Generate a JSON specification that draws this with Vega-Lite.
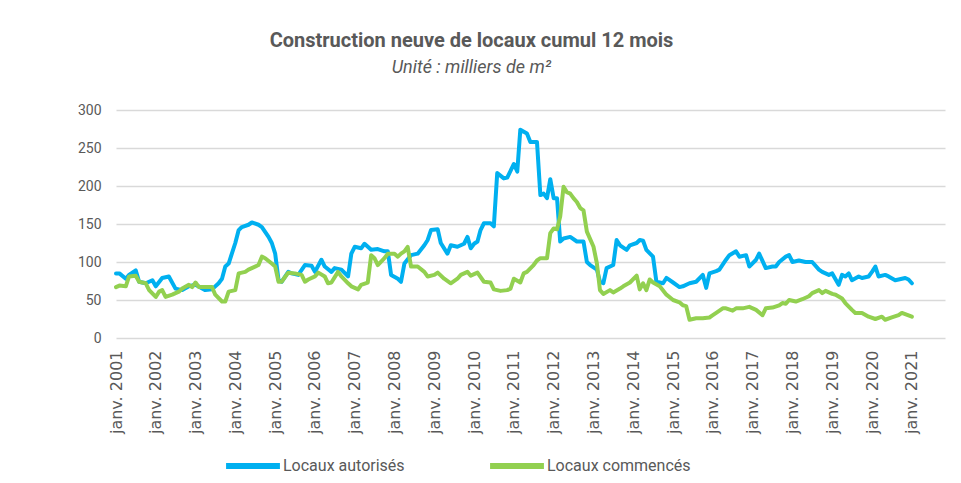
{
"$schema": "https://vega.github.io/schema/vega-lite/v6.json",
"width": 829, "height": 228,
"autosize": {"type": "none"},
"padding": {"left": 116, "top": 110, "right": 16, "bottom": 145},
"background": "white",
"title": {"text": "Construction neuve de locaux cumul 12 mois", "subtitle": "Unité : milliers de m²", "anchor": "middle", "frame": "group", "dx": -59, "offset": 26, "font": "Roboto", "fontSize": 20, "fontWeight": "bold", "color": "#595959", "subtitleFont": "Roboto", "subtitleFontSize": 18, "subtitleFontStyle": "italic", "subtitleColor": "#595959", "subtitlePadding": 8},
"config": {"view": {"stroke": null}},
"data": {"values": [
{"d":"2001-01-01","s":"Locaux autorisés","v":85},{"d":"2001-02-01","s":"Locaux autorisés","v":85},{"d":"2001-04-01","s":"Locaux autorisés","v":78},{"d":"2001-05-01","s":"Locaux autorisés","v":83},{"d":"2001-07-01","s":"Locaux autorisés","v":89},{"d":"2001-08-01","s":"Locaux autorisés","v":74},{"d":"2001-10-01","s":"Locaux autorisés","v":72},{"d":"2001-12-01","s":"Locaux autorisés","v":76},
{"d":"2002-01-01","s":"Locaux autorisés","v":68},{"d":"2002-03-01","s":"Locaux autorisés","v":79},{"d":"2002-05-01","s":"Locaux autorisés","v":81},{"d":"2002-07-01","s":"Locaux autorisés","v":65},{"d":"2002-09-01","s":"Locaux autorisés","v":63},{"d":"2002-11-01","s":"Locaux autorisés","v":68},
{"d":"2003-01-01","s":"Locaux autorisés","v":70},{"d":"2003-04-01","s":"Locaux autorisés","v":63},{"d":"2003-06-01","s":"Locaux autorisés","v":64},{"d":"2003-08-01","s":"Locaux autorisés","v":72},{"d":"2003-09-01","s":"Locaux autorisés","v":78},{"d":"2003-10-01","s":"Locaux autorisés","v":94},{"d":"2003-11-01","s":"Locaux autorisés","v":98},
{"d":"2004-01-01","s":"Locaux autorisés","v":125},{"d":"2004-02-01","s":"Locaux autorisés","v":142},{"d":"2004-03-01","s":"Locaux autorisés","v":146},{"d":"2004-05-01","s":"Locaux autorisés","v":149},{"d":"2004-06-01","s":"Locaux autorisés","v":152},{"d":"2004-08-01","s":"Locaux autorisés","v":149},{"d":"2004-09-01","s":"Locaux autorisés","v":146},{"d":"2004-11-01","s":"Locaux autorisés","v":133},{"d":"2004-12-01","s":"Locaux autorisés","v":125},
{"d":"2005-01-01","s":"Locaux autorisés","v":111},{"d":"2005-02-01","s":"Locaux autorisés","v":76},{"d":"2005-03-01","s":"Locaux autorisés","v":74},{"d":"2005-05-01","s":"Locaux autorisés","v":87},{"d":"2005-06-01","s":"Locaux autorisés","v":85},{"d":"2005-08-01","s":"Locaux autorisés","v":83},{"d":"2005-10-01","s":"Locaux autorisés","v":96},{"d":"2005-12-01","s":"Locaux autorisés","v":95},
{"d":"2006-01-01","s":"Locaux autorisés","v":87},{"d":"2006-03-01","s":"Locaux autorisés","v":103},{"d":"2006-04-01","s":"Locaux autorisés","v":94},{"d":"2006-06-01","s":"Locaux autorisés","v":87},{"d":"2006-07-01","s":"Locaux autorisés","v":92},{"d":"2006-09-01","s":"Locaux autorisés","v":90},{"d":"2006-11-01","s":"Locaux autorisés","v":81},{"d":"2006-12-01","s":"Locaux autorisés","v":111},
{"d":"2007-01-01","s":"Locaux autorisés","v":120},{"d":"2007-03-01","s":"Locaux autorisés","v":118},{"d":"2007-04-01","s":"Locaux autorisés","v":124},{"d":"2007-06-01","s":"Locaux autorisés","v":116},{"d":"2007-08-01","s":"Locaux autorisés","v":117},{"d":"2007-10-01","s":"Locaux autorisés","v":114},{"d":"2007-11-01","s":"Locaux autorisés","v":114},{"d":"2007-12-01","s":"Locaux autorisés","v":83},
{"d":"2008-02-01","s":"Locaux autorisés","v":78},{"d":"2008-03-01","s":"Locaux autorisés","v":74},{"d":"2008-04-01","s":"Locaux autorisés","v":98},{"d":"2008-06-01","s":"Locaux autorisés","v":109},{"d":"2008-08-01","s":"Locaux autorisés","v":111},{"d":"2008-10-01","s":"Locaux autorisés","v":122},{"d":"2008-11-01","s":"Locaux autorisés","v":129},{"d":"2008-12-01","s":"Locaux autorisés","v":142},
{"d":"2009-02-01","s":"Locaux autorisés","v":143},{"d":"2009-03-01","s":"Locaux autorisés","v":125},{"d":"2009-05-01","s":"Locaux autorisés","v":111},{"d":"2009-06-01","s":"Locaux autorisés","v":122},{"d":"2009-08-01","s":"Locaux autorisés","v":120},{"d":"2009-10-01","s":"Locaux autorisés","v":124},{"d":"2009-11-01","s":"Locaux autorisés","v":133},{"d":"2009-12-01","s":"Locaux autorisés","v":118},
{"d":"2010-01-01","s":"Locaux autorisés","v":124},{"d":"2010-02-01","s":"Locaux autorisés","v":127},{"d":"2010-03-01","s":"Locaux autorisés","v":142},{"d":"2010-04-01","s":"Locaux autorisés","v":151},{"d":"2010-06-01","s":"Locaux autorisés","v":151},{"d":"2010-07-01","s":"Locaux autorisés","v":147},{"d":"2010-08-01","s":"Locaux autorisés","v":217},{"d":"2010-10-01","s":"Locaux autorisés","v":210},{"d":"2010-11-01","s":"Locaux autorisés","v":211},
{"d":"2011-01-01","s":"Locaux autorisés","v":229},{"d":"2011-02-01","s":"Locaux autorisés","v":219},{"d":"2011-03-01","s":"Locaux autorisés","v":274},{"d":"2011-05-01","s":"Locaux autorisés","v":269},{"d":"2011-06-01","s":"Locaux autorisés","v":258},{"d":"2011-08-01","s":"Locaux autorisés","v":258},{"d":"2011-09-01","s":"Locaux autorisés","v":188},{"d":"2011-10-01","s":"Locaux autorisés","v":190},{"d":"2011-11-01","s":"Locaux autorisés","v":184},{"d":"2011-12-01","s":"Locaux autorisés","v":209},
{"d":"2012-01-01","s":"Locaux autorisés","v":184},{"d":"2012-02-01","s":"Locaux autorisés","v":184},{"d":"2012-03-01","s":"Locaux autorisés","v":127},{"d":"2012-04-01","s":"Locaux autorisés","v":131},{"d":"2012-06-01","s":"Locaux autorisés","v":133},{"d":"2012-08-01","s":"Locaux autorisés","v":127},{"d":"2012-10-01","s":"Locaux autorisés","v":127},{"d":"2012-11-01","s":"Locaux autorisés","v":100},{"d":"2012-12-01","s":"Locaux autorisés","v":96},
{"d":"2013-02-01","s":"Locaux autorisés","v":90},{"d":"2013-03-01","s":"Locaux autorisés","v":74},{"d":"2013-04-01","s":"Locaux autorisés","v":72},{"d":"2013-05-01","s":"Locaux autorisés","v":92},{"d":"2013-07-01","s":"Locaux autorisés","v":96},{"d":"2013-08-01","s":"Locaux autorisés","v":129},{"d":"2013-09-01","s":"Locaux autorisés","v":122},{"d":"2013-11-01","s":"Locaux autorisés","v":116},{"d":"2013-12-01","s":"Locaux autorisés","v":122},
{"d":"2014-02-01","s":"Locaux autorisés","v":125},{"d":"2014-03-01","s":"Locaux autorisés","v":129},{"d":"2014-04-01","s":"Locaux autorisés","v":128},{"d":"2014-05-01","s":"Locaux autorisés","v":116},{"d":"2014-07-01","s":"Locaux autorisés","v":107},{"d":"2014-08-01","s":"Locaux autorisés","v":74},{"d":"2014-10-01","s":"Locaux autorisés","v":72},{"d":"2014-11-01","s":"Locaux autorisés","v":79},
{"d":"2015-01-01","s":"Locaux autorisés","v":73},{"d":"2015-03-01","s":"Locaux autorisés","v":67},{"d":"2015-04-01","s":"Locaux autorisés","v":68},{"d":"2015-06-01","s":"Locaux autorisés","v":72},{"d":"2015-08-01","s":"Locaux autorisés","v":74},{"d":"2015-10-01","s":"Locaux autorisés","v":83},{"d":"2015-11-01","s":"Locaux autorisés","v":66},{"d":"2015-12-01","s":"Locaux autorisés","v":85},
{"d":"2016-02-01","s":"Locaux autorisés","v":88},{"d":"2016-03-01","s":"Locaux autorisés","v":90},{"d":"2016-05-01","s":"Locaux autorisés","v":103},{"d":"2016-06-01","s":"Locaux autorisés","v":109},{"d":"2016-08-01","s":"Locaux autorisés","v":114},{"d":"2016-09-01","s":"Locaux autorisés","v":107},{"d":"2016-11-01","s":"Locaux autorisés","v":109},{"d":"2016-12-01","s":"Locaux autorisés","v":94},
{"d":"2017-02-01","s":"Locaux autorisés","v":103},{"d":"2017-03-01","s":"Locaux autorisés","v":111},{"d":"2017-05-01","s":"Locaux autorisés","v":92},{"d":"2017-07-01","s":"Locaux autorisés","v":94},{"d":"2017-08-01","s":"Locaux autorisés","v":94},{"d":"2017-09-01","s":"Locaux autorisés","v":100},{"d":"2017-11-01","s":"Locaux autorisés","v":107},{"d":"2017-12-01","s":"Locaux autorisés","v":109},
{"d":"2018-01-01","s":"Locaux autorisés","v":100},{"d":"2018-03-01","s":"Locaux autorisés","v":102},{"d":"2018-05-01","s":"Locaux autorisés","v":100},{"d":"2018-07-01","s":"Locaux autorisés","v":100},{"d":"2018-09-01","s":"Locaux autorisés","v":90},{"d":"2018-10-01","s":"Locaux autorisés","v":87},{"d":"2018-12-01","s":"Locaux autorisés","v":83},
{"d":"2019-01-01","s":"Locaux autorisés","v":85},{"d":"2019-03-01","s":"Locaux autorisés","v":70},{"d":"2019-04-01","s":"Locaux autorisés","v":83},{"d":"2019-05-01","s":"Locaux autorisés","v":81},{"d":"2019-06-01","s":"Locaux autorisés","v":85},{"d":"2019-07-01","s":"Locaux autorisés","v":76},{"d":"2019-09-01","s":"Locaux autorisés","v":81},{"d":"2019-10-01","s":"Locaux autorisés","v":79},{"d":"2019-12-01","s":"Locaux autorisés","v":81},
{"d":"2020-01-01","s":"Locaux autorisés","v":87},{"d":"2020-02-01","s":"Locaux autorisés","v":94},{"d":"2020-03-01","s":"Locaux autorisés","v":81},{"d":"2020-05-01","s":"Locaux autorisés","v":83},{"d":"2020-06-01","s":"Locaux autorisés","v":81},{"d":"2020-08-01","s":"Locaux autorisés","v":76},{"d":"2020-09-01","s":"Locaux autorisés","v":77},{"d":"2020-11-01","s":"Locaux autorisés","v":79},{"d":"2020-12-01","s":"Locaux autorisés","v":77},{"d":"2021-01-01","s":"Locaux autorisés","v":72},
{"d":"2001-01-01","s":"Locaux commencés","v":67},{"d":"2001-02-01","s":"Locaux commencés","v":69},{"d":"2001-04-01","s":"Locaux commencés","v":68},{"d":"2001-05-01","s":"Locaux commencés","v":81},{"d":"2001-07-01","s":"Locaux commencés","v":82},{"d":"2001-08-01","s":"Locaux commencés","v":74},{"d":"2001-10-01","s":"Locaux commencés","v":72},{"d":"2001-11-01","s":"Locaux commencés","v":63},
{"d":"2002-01-01","s":"Locaux commencés","v":54},{"d":"2002-02-01","s":"Locaux commencés","v":61},{"d":"2002-03-01","s":"Locaux commencés","v":63},{"d":"2002-04-01","s":"Locaux commencés","v":54},{"d":"2002-06-01","s":"Locaux commencés","v":57},{"d":"2002-08-01","s":"Locaux commencés","v":61},{"d":"2002-09-01","s":"Locaux commencés","v":65},{"d":"2002-11-01","s":"Locaux commencés","v":70},{"d":"2002-12-01","s":"Locaux commencés","v":67},
{"d":"2003-01-01","s":"Locaux commencés","v":73},{"d":"2003-02-01","s":"Locaux commencés","v":67},{"d":"2003-04-01","s":"Locaux commencés","v":67},{"d":"2003-06-01","s":"Locaux commencés","v":67},{"d":"2003-07-01","s":"Locaux commencés","v":57},{"d":"2003-09-01","s":"Locaux commencés","v":48},{"d":"2003-10-01","s":"Locaux commencés","v":48},{"d":"2003-11-01","s":"Locaux commencés","v":61},
{"d":"2004-01-01","s":"Locaux commencés","v":63},{"d":"2004-02-01","s":"Locaux commencés","v":85},{"d":"2004-04-01","s":"Locaux commencés","v":87},{"d":"2004-05-01","s":"Locaux commencés","v":90},{"d":"2004-07-01","s":"Locaux commencés","v":94},{"d":"2004-08-01","s":"Locaux commencés","v":96},{"d":"2004-09-01","s":"Locaux commencés","v":107},{"d":"2004-10-01","s":"Locaux commencés","v":105},{"d":"2004-12-01","s":"Locaux commencés","v":98},
{"d":"2005-01-01","s":"Locaux commencés","v":94},{"d":"2005-02-01","s":"Locaux commencés","v":74},{"d":"2005-03-01","s":"Locaux commencés","v":74},{"d":"2005-05-01","s":"Locaux commencés","v":86},{"d":"2005-07-01","s":"Locaux commencés","v":85},{"d":"2005-09-01","s":"Locaux commencés","v":83},{"d":"2005-10-01","s":"Locaux commencés","v":74},{"d":"2005-11-01","s":"Locaux commencés","v":77},
{"d":"2006-01-01","s":"Locaux commencés","v":81},{"d":"2006-02-01","s":"Locaux commencés","v":86},{"d":"2006-04-01","s":"Locaux commencés","v":81},{"d":"2006-05-01","s":"Locaux commencés","v":72},{"d":"2006-06-01","s":"Locaux commencés","v":73},{"d":"2006-08-01","s":"Locaux commencés","v":87},{"d":"2006-09-01","s":"Locaux commencés","v":81},{"d":"2006-11-01","s":"Locaux commencés","v":72},{"d":"2006-12-01","s":"Locaux commencés","v":68},
{"d":"2007-02-01","s":"Locaux commencés","v":64},{"d":"2007-03-01","s":"Locaux commencés","v":70},{"d":"2007-05-01","s":"Locaux commencés","v":73},{"d":"2007-06-01","s":"Locaux commencés","v":109},{"d":"2007-07-01","s":"Locaux commencés","v":105},{"d":"2007-08-01","s":"Locaux commencés","v":96},{"d":"2007-10-01","s":"Locaux commencés","v":105},{"d":"2007-11-01","s":"Locaux commencés","v":111},
{"d":"2008-01-01","s":"Locaux commencés","v":111},{"d":"2008-02-01","s":"Locaux commencés","v":107},{"d":"2008-03-01","s":"Locaux commencés","v":111},{"d":"2008-04-01","s":"Locaux commencés","v":114},{"d":"2008-05-01","s":"Locaux commencés","v":120},{"d":"2008-06-01","s":"Locaux commencés","v":94},{"d":"2008-07-01","s":"Locaux commencés","v":94},{"d":"2008-08-01","s":"Locaux commencés","v":94},{"d":"2008-10-01","s":"Locaux commencés","v":87},{"d":"2008-11-01","s":"Locaux commencés","v":81},
{"d":"2009-01-01","s":"Locaux commencés","v":83},{"d":"2009-02-01","s":"Locaux commencés","v":86},{"d":"2009-04-01","s":"Locaux commencés","v":78},{"d":"2009-06-01","s":"Locaux commencés","v":72},{"d":"2009-08-01","s":"Locaux commencés","v":78},{"d":"2009-09-01","s":"Locaux commencés","v":83},{"d":"2009-11-01","s":"Locaux commencés","v":87},{"d":"2009-12-01","s":"Locaux commencés","v":82},
{"d":"2010-02-01","s":"Locaux commencés","v":86},{"d":"2010-04-01","s":"Locaux commencés","v":74},{"d":"2010-06-01","s":"Locaux commencés","v":73},{"d":"2010-07-01","s":"Locaux commencés","v":64},{"d":"2010-09-01","s":"Locaux commencés","v":62},{"d":"2010-11-01","s":"Locaux commencés","v":63},{"d":"2010-12-01","s":"Locaux commencés","v":65},
{"d":"2011-01-01","s":"Locaux commencés","v":78},{"d":"2011-03-01","s":"Locaux commencés","v":73},{"d":"2011-04-01","s":"Locaux commencés","v":85},{"d":"2011-05-01","s":"Locaux commencés","v":87},{"d":"2011-07-01","s":"Locaux commencés","v":96},{"d":"2011-08-01","s":"Locaux commencés","v":102},{"d":"2011-09-01","s":"Locaux commencés","v":105},{"d":"2011-11-01","s":"Locaux commencés","v":105},{"d":"2011-12-01","s":"Locaux commencés","v":138},
{"d":"2012-01-01","s":"Locaux commencés","v":144},{"d":"2012-02-01","s":"Locaux commencés","v":143},{"d":"2012-03-01","s":"Locaux commencés","v":160},{"d":"2012-04-01","s":"Locaux commencés","v":199},{"d":"2012-05-01","s":"Locaux commencés","v":192},{"d":"2012-06-01","s":"Locaux commencés","v":190},{"d":"2012-07-01","s":"Locaux commencés","v":184},{"d":"2012-08-01","s":"Locaux commencés","v":179},{"d":"2012-09-01","s":"Locaux commencés","v":171},{"d":"2012-10-01","s":"Locaux commencés","v":168},{"d":"2012-11-01","s":"Locaux commencés","v":140},
{"d":"2013-01-01","s":"Locaux commencés","v":120},{"d":"2013-02-01","s":"Locaux commencés","v":98},{"d":"2013-03-01","s":"Locaux commencés","v":63},{"d":"2013-04-01","s":"Locaux commencés","v":58},{"d":"2013-06-01","s":"Locaux commencés","v":63},{"d":"2013-07-01","s":"Locaux commencés","v":60},{"d":"2013-09-01","s":"Locaux commencés","v":65},{"d":"2013-10-01","s":"Locaux commencés","v":68},{"d":"2013-12-01","s":"Locaux commencés","v":73},
{"d":"2014-02-01","s":"Locaux commencés","v":82},{"d":"2014-03-01","s":"Locaux commencés","v":64},{"d":"2014-04-01","s":"Locaux commencés","v":72},{"d":"2014-05-01","s":"Locaux commencés","v":63},{"d":"2014-06-01","s":"Locaux commencés","v":77},{"d":"2014-07-01","s":"Locaux commencés","v":73},{"d":"2014-09-01","s":"Locaux commencés","v":68},{"d":"2014-11-01","s":"Locaux commencés","v":57},
{"d":"2015-01-01","s":"Locaux commencés","v":50},{"d":"2015-03-01","s":"Locaux commencés","v":47},{"d":"2015-04-01","s":"Locaux commencés","v":43},{"d":"2015-05-01","s":"Locaux commencés","v":42},{"d":"2015-06-01","s":"Locaux commencés","v":24},{"d":"2015-08-01","s":"Locaux commencés","v":26},{"d":"2015-10-01","s":"Locaux commencés","v":26},{"d":"2015-12-01","s":"Locaux commencés","v":27},
{"d":"2016-01-01","s":"Locaux commencés","v":30},{"d":"2016-02-01","s":"Locaux commencés","v":33},{"d":"2016-04-01","s":"Locaux commencés","v":39},{"d":"2016-05-01","s":"Locaux commencés","v":39},{"d":"2016-07-01","s":"Locaux commencés","v":36},{"d":"2016-08-01","s":"Locaux commencés","v":39},{"d":"2016-10-01","s":"Locaux commencés","v":39},{"d":"2016-12-01","s":"Locaux commencés","v":41},
{"d":"2017-02-01","s":"Locaux commencés","v":37},{"d":"2017-04-01","s":"Locaux commencés","v":30},{"d":"2017-05-01","s":"Locaux commencés","v":39},{"d":"2017-07-01","s":"Locaux commencés","v":40},{"d":"2017-09-01","s":"Locaux commencés","v":43},{"d":"2017-10-01","s":"Locaux commencés","v":46},{"d":"2017-11-01","s":"Locaux commencés","v":45},{"d":"2017-12-01","s":"Locaux commencés","v":50},
{"d":"2018-02-01","s":"Locaux commencés","v":48},{"d":"2018-04-01","s":"Locaux commencés","v":51},{"d":"2018-06-01","s":"Locaux commencés","v":55},{"d":"2018-07-01","s":"Locaux commencés","v":59},{"d":"2018-09-01","s":"Locaux commencés","v":63},{"d":"2018-10-01","s":"Locaux commencés","v":59},{"d":"2018-11-01","s":"Locaux commencés","v":62},
{"d":"2019-01-01","s":"Locaux commencés","v":58},{"d":"2019-02-01","s":"Locaux commencés","v":57},{"d":"2019-04-01","s":"Locaux commencés","v":52},{"d":"2019-05-01","s":"Locaux commencés","v":46},{"d":"2019-07-01","s":"Locaux commencés","v":37},{"d":"2019-08-01","s":"Locaux commencés","v":33},{"d":"2019-10-01","s":"Locaux commencés","v":33},{"d":"2019-12-01","s":"Locaux commencés","v":28},
{"d":"2020-02-01","s":"Locaux commencés","v":25},{"d":"2020-04-01","s":"Locaux commencés","v":28},{"d":"2020-05-01","s":"Locaux commencés","v":24},{"d":"2020-07-01","s":"Locaux commencés","v":27},{"d":"2020-09-01","s":"Locaux commencés","v":30},{"d":"2020-10-01","s":"Locaux commencés","v":33},{"d":"2021-01-01","s":"Locaux commencés","v":28}
]},
"mark": {"type": "line", "strokeWidth": 4, "strokeJoin": "round", "strokeCap": "round"},
"encoding": {
"x": {"field": "d", "type": "temporal",
"scale": {"type": "utc", "domain": [{"year": 2001, "month": 1, "date": 1, "utc": true}, {"year": 2021, "month": 11, "date": 1, "utc": true}]},
"axis": {"title": null, "grid": false, "domain": false, "ticks": false, "labelAngle": 270, "labelAlign": "right", "labelBaseline": "middle", "labelPadding": 12, "labelFont": "DejaVu Sans", "labelFontSize": 16, "labelColor": "#595959", "labelOverlap": false, "labelBound": false, "labelFlush": false,
"values": [{"year":2001,"month":1,"date":1,"utc":true},{"year":2002,"month":1,"date":1,"utc":true},{"year":2003,"month":1,"date":1,"utc":true},{"year":2004,"month":1,"date":1,"utc":true},{"year":2005,"month":1,"date":1,"utc":true},{"year":2006,"month":1,"date":1,"utc":true},{"year":2007,"month":1,"date":1,"utc":true},{"year":2008,"month":1,"date":1,"utc":true},{"year":2009,"month":1,"date":1,"utc":true},{"year":2010,"month":1,"date":1,"utc":true},{"year":2011,"month":1,"date":1,"utc":true},{"year":2012,"month":1,"date":1,"utc":true},{"year":2013,"month":1,"date":1,"utc":true},{"year":2014,"month":1,"date":1,"utc":true},{"year":2015,"month":1,"date":1,"utc":true},{"year":2016,"month":1,"date":1,"utc":true},{"year":2017,"month":1,"date":1,"utc":true},{"year":2018,"month":1,"date":1,"utc":true},{"year":2019,"month":1,"date":1,"utc":true},{"year":2020,"month":1,"date":1,"utc":true},{"year":2021,"month":1,"date":1,"utc":true}],
"labelExpr": "'janv. ' + utcFormat(datum.value, '%Y')"}},
"y": {"field": "v", "type": "quantitative", "scale": {"domain": [0, 300], "nice": false},
"axis": {"title": null, "values": [0, 50, 100, 150, 200, 250, 300], "grid": true, "gridColor": "#D9D9D9", "gridWidth": 1.5, "domain": false, "ticks": false, "labelPadding": 15, "labelFont": "Roboto", "labelFontSize": 14, "labelColor": "#595959"}},
"color": {"field": "s", "type": "nominal",
"scale": {"domain": ["Locaux autorisés", "Locaux commencés"], "range": ["#00B0F0", "#92D050"]},
"legend": {"title": null, "orient": "none", "legendX": 107, "legendY": 326, "direction": "horizontal", "symbolType": "stroke", "symbolSize": 2900, "symbolStrokeWidth": 6, "labelFont": "Roboto", "labelFontSize": 16, "labelColor": "#595959", "columnPadding": 73, "labelOffset": 0}}
}
}
